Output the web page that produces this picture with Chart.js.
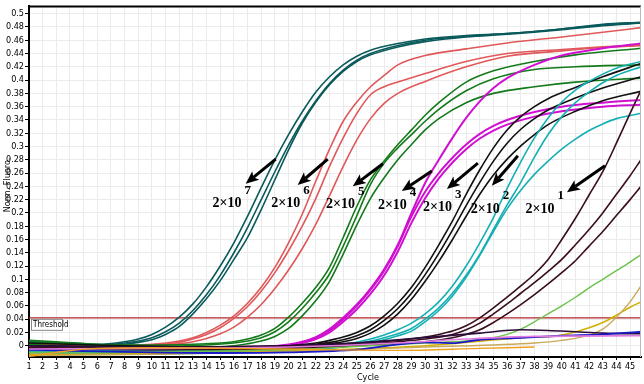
<!DOCTYPE html>
<html>
<head>
<meta charset="utf-8">
<script src="https://cdn.jsdelivr.net/npm/chart.js@4.4.1/dist/chart.umd.min.js"></script>
<style>
html, body { margin: 0; padding: 0; background: #fff; }
</style>
</head>
<body>
<canvas id="chart" width="644" height="384"></canvas>
<script>
// amplification curves, [cycle, norm. fluoro]
var dil7a = [[1,0.006],[4,0.004],[6,0.002],[8,0.006],[9,0.01],[10,0.017],[11,0.028],[12,0.043],[13,0.063],[14,0.089],[15,0.12],[16,0.155],[17,0.195],[18,0.238],[19,0.28],[20,0.318],[21,0.352],[22,0.382],[23,0.405],[24,0.423],[25,0.436],[26,0.445],[28,0.455],[30,0.462],[33,0.467],[36,0.47],[40,0.477],[43,0.484],[45.8,0.487]];
var dil7b = [[1,0.003],[4,0.001],[6,0.0],[8,0.004],[9,0.007],[10,0.012],[11,0.021],[12,0.034],[13,0.053],[14,0.077],[15,0.106],[16,0.14],[17,0.178],[18,0.22],[19,0.262],[20,0.302],[21,0.338],[22,0.369],[23,0.395],[24,0.415],[25,0.43],[26,0.44],[28,0.452],[30,0.46],[33,0.466],[36,0.47],[40,0.477],[43,0.483],[45.8,0.486]];
var dil7c = [[1,0.0],[4,-0.002],[6,-0.002],[8,0.002],[9,0.005],[10,0.009],[11,0.017],[12,0.029],[13,0.048],[14,0.071],[15,0.098],[16,0.13],[17,0.163],[18,0.205],[19,0.25],[20,0.295],[21,0.335],[22,0.367],[23,0.393],[24,0.413],[25,0.428],[26,0.438],[28,0.45],[30,0.458],[33,0.465],[36,0.469],[40,0.476],[43,0.482],[45.8,0.486]];

var dil6a = [[1,0.002],[6,0.0],[10,0.002],[12,0.007],[13,0.012],[14,0.02],[15,0.031],[16,0.045],[17,0.064],[18,0.088],[19,0.118],[20,0.155],[21,0.198],[22,0.248],[23,0.296],[24,0.338],[25,0.367],[26,0.39],[27,0.407],[28,0.423],[30,0.437],[33,0.447],[36,0.456],[40,0.465],[43,0.472],[45.8,0.479]];
var dil6b = [[1,0.0],[6,-0.002],[10,0.001],[12,0.005],[13,0.01],[14,0.017],[15,0.027],[16,0.041],[17,0.059],[18,0.082],[19,0.11],[20,0.143],[21,0.18],[22,0.222],[23,0.27],[24,0.313],[25,0.35],[26,0.378],[27,0.39],[28,0.397],[30,0.41],[33,0.428],[36,0.44],[40,0.446],[43,0.45],[45.8,0.453]];
var dil6c = [[1,-0.002],[6,-0.004],[10,-0.001],[12,0.003],[13,0.006],[14,0.011],[15,0.018],[16,0.028],[17,0.043],[18,0.062],[19,0.086],[20,0.114],[21,0.146],[22,0.183],[23,0.226],[24,0.27],[25,0.31],[26,0.342],[27,0.365],[28,0.38],[30,0.398],[33,0.42],[36,0.436],[40,0.444],[43,0.449],[45.8,0.452]];

var dil5a = [[1,0.008],[3,0.006],[6,0.002],[10,0.001],[14,0.003],[16,0.006],[17,0.01],[18,0.016],[19,0.026],[20,0.043],[21,0.064],[22,0.088],[23,0.118],[24,0.163],[25,0.21],[26,0.25],[27,0.278],[28,0.303],[29,0.325],[30,0.347],[31,0.366],[33,0.397],[35,0.414],[38,0.428],[41,0.438],[45.8,0.448]];
var dil5b = [[1,0.005],[3,0.004],[6,0.0],[10,-0.001],[14,0.001],[16,0.004],[17,0.007],[18,0.012],[19,0.021],[20,0.036],[21,0.056],[22,0.08],[23,0.108],[24,0.15],[25,0.196],[26,0.243],[27,0.275],[28,0.298],[29,0.318],[30,0.338],[31,0.356],[33,0.384],[35,0.402],[38,0.416],[41,0.42],[45.8,0.423]];
var dil5c = [[1,0.002],[3,0.0],[6,-0.003],[10,-0.004],[14,-0.002],[16,0.0],[17,0.003],[18,0.007],[19,0.014],[20,0.026],[21,0.045],[22,0.068],[23,0.097],[24,0.138],[25,0.182],[26,0.222],[27,0.253],[28,0.28],[29,0.303],[30,0.325],[31,0.342],[33,0.366],[35,0.38],[38,0.39],[41,0.397],[45.8,0.403]];

var dil4a = [[1,-0.004],[10,-0.006],[18,-0.002],[20,0.002],[21,0.006],[22,0.013],[23,0.025],[24,0.042],[25,0.062],[26,0.086],[27,0.115],[28,0.152],[29,0.2],[30,0.245],[31,0.28],[32,0.313],[33,0.343],[34,0.368],[35,0.388],[36,0.403],[38,0.423],[40,0.437],[43,0.448],[45.8,0.455]];
var dil4b = [[1,-0.006],[10,-0.007],[18,-0.003],[20,0.001],[21,0.005],[22,0.012],[23,0.023],[24,0.04],[25,0.06],[26,0.084],[27,0.113],[28,0.15],[29,0.195],[30,0.232],[31,0.26],[32,0.283],[33,0.303],[34,0.319],[35,0.331],[36,0.34],[38,0.352],[40,0.36],[43,0.366],[45.8,0.37]];
var dil4c = [[1,-0.008],[10,-0.009],[18,-0.005],[20,0.0],[21,0.004],[22,0.01],[23,0.02],[24,0.036],[25,0.055],[26,0.078],[27,0.106],[28,0.142],[29,0.185],[30,0.222],[31,0.252],[32,0.276],[33,0.296],[34,0.312],[35,0.324],[36,0.333],[38,0.345],[40,0.353],[43,0.36],[45.8,0.363]];

var dil3a = [[1,0.004],[8,0.0],[15,-0.002],[20,0.0],[22,0.004],[23,0.008],[24,0.013],[25,0.02],[26,0.03],[27,0.045],[28,0.064],[29,0.088],[30,0.118],[31,0.152],[32,0.188],[33,0.228],[34,0.265],[35,0.298],[36,0.325],[37,0.345],[38,0.36],[39,0.372],[41,0.389],[43,0.405],[45.8,0.425]];
var dil3b = [[1,0.0],[8,-0.003],[15,-0.004],[20,-0.002],[22,0.002],[23,0.005],[24,0.009],[25,0.015],[26,0.024],[27,0.038],[28,0.056],[29,0.079],[30,0.107],[31,0.139],[32,0.174],[33,0.211],[34,0.246],[35,0.278],[36,0.305],[37,0.326],[38,0.342],[39,0.355],[41,0.373],[43,0.388],[45.8,0.405]];
var dil3c = [[1,-0.003],[8,-0.006],[15,-0.006],[20,-0.004],[22,0.0],[23,0.003],[24,0.006],[25,0.011],[26,0.019],[27,0.031],[28,0.048],[29,0.07],[30,0.097],[31,0.127],[32,0.16],[33,0.195],[34,0.228],[35,0.257],[36,0.281],[37,0.301],[38,0.318],[39,0.333],[41,0.353],[43,0.369],[45.8,0.383]];

var dil2a = [[1,-0.006],[10,-0.008],[20,-0.004],[24,0.002],[26,0.01],[27,0.016],[28,0.024],[29,0.034],[30,0.048],[31,0.066],[32,0.09],[33,0.12],[34,0.155],[35,0.193],[36,0.237],[37,0.277],[38,0.313],[39,0.343],[40,0.367],[41,0.385],[42,0.398],[43,0.409],[44,0.418],[45.8,0.428]];
var dil2b = [[1,-0.009],[10,-0.01],[20,-0.006],[24,0.0],[26,0.007],[27,0.012],[28,0.018],[29,0.026],[30,0.04],[31,0.057],[32,0.079],[33,0.106],[34,0.138],[35,0.175],[36,0.212],[37,0.246],[38,0.284],[39,0.318],[40,0.345],[41,0.366],[42,0.382],[43,0.396],[44,0.407],[45.8,0.42]];
var dil2c = [[1,-0.011],[10,-0.012],[20,-0.008],[24,-0.002],[26,0.005],[27,0.009],[28,0.015],[29,0.022],[30,0.036],[31,0.053],[32,0.075],[33,0.103],[34,0.136],[35,0.172],[36,0.206],[37,0.234],[38,0.258],[39,0.278],[40,0.296],[41,0.311],[42,0.324],[43,0.334],[44,0.342],[45.8,0.35]];

var dil1a = [[1,0.0],[10,-0.002],[20,0.0],[25,0.004],[28,0.008],[30,0.013],[31,0.017],[32,0.022],[33,0.03],[34,0.042],[35,0.057],[36,0.073],[37,0.09],[38,0.108],[39,0.13],[40,0.16],[41,0.192],[42,0.227],[43,0.262],[44,0.305],[45,0.35],[45.8,0.385]];
var dil1b = [[1,-0.003],[10,-0.004],[20,-0.002],[25,0.002],[28,0.006],[30,0.01],[32,0.017],[33,0.024],[34,0.034],[35,0.048],[36,0.063],[37,0.079],[38,0.095],[39,0.112],[40,0.13],[41,0.152],[42,0.175],[43,0.2],[44,0.228],[45,0.256],[45.8,0.28]];
var dil1c = [[1,-0.005],[10,-0.006],[20,-0.004],[25,0.0],[28,0.003],[30,0.006],[32,0.012],[33,0.017],[34,0.024],[35,0.035],[36,0.048],[37,0.062],[38,0.077],[39,0.093],[40,0.11],[41,0.128],[42,0.15],[43,0.172],[44,0.196],[45,0.22],[45.8,0.24]];

// late / background traces
var lateGreen = [[1,-0.01],[10,-0.009],[20,-0.006],[26,0.0],[30,0.004],[33,0.007],[35,0.012],[36,0.017],[37,0.025],[38,0.036],[39,0.048],[40,0.06],[41,0.073],[42,0.087],[43,0.1],[44,0.113],[45,0.126],[45.8,0.137]];
var lateGold = [[1,-0.013],[10,-0.012],[20,-0.008],[30,0.0],[37,0.012],[40,0.016],[42,0.027],[43,0.035],[44,0.046],[45,0.058],[45.8,0.066]];
var lateTan = [[1,-0.015],[10,-0.013],[20,-0.009],[30,-0.002],[38,0.004],[40,0.008],[42,0.016],[43,0.025],[44,0.043],[45,0.066],[45.8,0.09]];
var flatPurple = [[1,0.0],[10,-0.002],[20,0.0],[25,0.004],[28,0.009],[31,0.014],[34,0.019],[37,0.024],[39,0.023],[41,0.021],[43,0.019],[45.8,0.018]];
var flatBlue = [[1,-0.006],[5,-0.008],[10,-0.01],[15,-0.011],[20,-0.01],[25,-0.006],[28,0.002],[30,0.005],[32,0.004],[34,0.009],[37,0.012],[40,0.015],[43,0.017],[45.8,0.021]];
var flatPink = [[1,-0.005],[10,-0.004],[20,-0.002],[28,0.004],[33,0.01],[38,0.014],[45.8,0.015]];
var flatOrange = [[1,-0.016],[3,-0.01],[6,-0.004],[10,-0.003],[20,-0.005],[28,-0.007],[34,-0.004],[38,-0.002]];

var threshold = 0.042;

// dilution annotations (2x10^n), in cycle / fluoro units
var dilutionExp = ['7', '6', '5', '4', '3', '2', '1'];
var labelCycle = [15.5, 19.8, 23.8, 27.6, 30.9, 34.4, 38.4];
var labelValue = [0.214, 0.214, 0.213, 0.211, 0.208, 0.206, 0.206];
var arrowTail = [[19.06,0.281],[22.87,0.281],[26.9,0.274],[30.49,0.263],[33.86,0.275],[36.79,0.286],[43.16,0.271]];
var arrowTip = [[16.86,0.244],[20.67,0.242],[24.7,0.24],[28.29,0.233],[31.59,0.236],[34.88,0.241],[40.38,0.231]];

var narrow = "'Liberation Sans Narrow', 'DejaVu Sans Condensed', 'Arial Narrow', sans-serif";

function trace(points, color, width) {
    return {
        data: points.map(function(p){ return {x: p[0], y: p[1]}; }),
        borderColor: color,
        borderWidth: width || 1.6,
        pointRadius: 0,
        fill: false,
        cubicInterpolationMode: 'monotone'
    };
}

var datasets = [
    trace(flatOrange, '#f0a020', 1.4),
    trace(flatPink, '#e07ce0', 1.6),
    trace(flatBlue, '#1a1ac8', 1.8),
    trace(flatPurple, '#2a0b3a', 1.6),
    trace(lateTan, '#c9aa5a', 1.4),
    trace(lateGold, '#d4b000', 1.6),
    trace(lateGreen, '#6cc24a', 1.4),
    trace(dil1a, '#3a0d1f'), trace(dil1b, '#3a0d1f'), trace(dil1c, '#3a0d1f'),
    trace(dil2a, '#16b0b4'), trace(dil2b, '#16b0b4'), trace(dil2c, '#16b0b4'),
    trace(dil3a, '#111111'), trace(dil3b, '#111111'), trace(dil3c, '#111111'),
    trace(dil4a, '#d010d0', 2), trace(dil4b, '#d010d0', 2), trace(dil4c, '#d010d0', 2),
    trace(dil5a, '#137a1a'), trace(dil5b, '#137a1a'), trace(dil5c, '#137a1a'),
    trace(dil6a, '#e0585a'), trace(dil6b, '#e0585a'), trace(dil6c, '#e0585a'),
    trace(dil7a, '#0a5a5c'), trace(dil7b, '#0a5a5c'), trace(dil7c, '#0a5a5c'),
    trace([[1, threshold], [45.8, threshold]], '#b02428', 1.3)
];

function drawArrow(ctx, x0, y0, x1, y1) {
    var ang = Math.atan2(y1 - y0, x1 - x0);
    var len = 13, half = 5.5;
    var bx = x1 - Math.cos(ang) * len, by = y1 - Math.sin(ang) * len;
    ctx.lineWidth = 3;
    ctx.beginPath();
    ctx.moveTo(x0, y0);
    ctx.lineTo(bx + Math.cos(ang) * 3, by + Math.sin(ang) * 3);
    ctx.stroke();
    ctx.beginPath();
    ctx.moveTo(x1, y1);
    ctx.lineTo(bx - Math.sin(ang) * half, by + Math.cos(ang) * half);
    ctx.lineTo(bx + Math.cos(ang) * 3, by + Math.sin(ang) * 3);
    ctx.lineTo(bx + Math.sin(ang) * half, by - Math.cos(ang) * half);
    ctx.closePath();
    ctx.fill();
}

var overlay = {
    id: 'overlay',
    afterDatasetsDraw: function(chart) {
        var ctx = chart.ctx, a = chart.chartArea;
        var xs = chart.scales.x, ys = chart.scales.y;
        ctx.save();
        // frame
        ctx.strokeStyle = '#000';
        ctx.lineWidth = 2;
        ctx.beginPath();
        ctx.moveTo(a.left, a.top);
        ctx.lineTo(a.right, a.top);
        ctx.stroke();
        ctx.strokeStyle = '#bbb';
        ctx.lineWidth = 1;
        ctx.beginPath();
        ctx.moveTo(a.right - 0.5, a.top);
        ctx.lineTo(a.right - 0.5, a.bottom);
        ctx.stroke();

        // threshold tag
        var ty = ys.getPixelForValue(threshold);
        ctx.fillStyle = '#fff';
        ctx.fillRect(a.left + 2.5, ty + 1.5, 31, 11);
        ctx.strokeStyle = '#888';
        ctx.strokeRect(a.left + 2.5, ty + 1.5, 31, 11);
        ctx.fillStyle = '#000';
        ctx.font = '8px ' + narrow;
        ctx.textBaseline = 'middle';
        ctx.textAlign = 'left';
        ctx.fillText('Threshold', a.left + 4, ty + 7.5);

        // arrows and dilution labels
        ctx.fillStyle = '#000';
        ctx.strokeStyle = '#000';
        for (var i = 0; i < dilutionExp.length; i++) {
            drawArrow(ctx,
                xs.getPixelForValue(arrowTail[i][0]), ys.getPixelForValue(arrowTail[i][1]),
                xs.getPixelForValue(arrowTip[i][0]), ys.getPixelForValue(arrowTip[i][1]));
            var lx = xs.getPixelForValue(labelCycle[i]);
            var ly = ys.getPixelForValue(labelValue[i]);
            ctx.font = 'bold 14px "Liberation Serif", "DejaVu Serif", serif';
            ctx.textAlign = 'center';
            ctx.textBaseline = 'middle';
            ctx.fillText('2\u00d710', lx, ly);
            var w = ctx.measureText('2\u00d710').width;
            ctx.font = 'bold 13px "Liberation Serif", "DejaVu Serif", serif';
            ctx.textAlign = 'left';
            ctx.fillText(dilutionExp[i], lx + w / 2 + 3, ly - 13);
        }

        // axis titles
        ctx.fillStyle = '#000';
        ctx.font = '9px ' + narrow;
        ctx.textAlign = 'center';
        ctx.textBaseline = 'middle';
        ctx.fillText('Cycle', 368, 378);
        ctx.translate(8, 185);
        ctx.rotate(-Math.PI / 2);
        ctx.fillText('Norm. Fluoro.', 0, 0);
        ctx.restore();
    }
};

var chart = new Chart(document.getElementById('chart'), {
    type: 'line',
    data: { datasets: datasets },
    plugins: [overlay],
    options: {
        responsive: false,
        animation: false,
        layout: { padding: { top: 5, right: 3, left: 0, bottom: 0 } },
        plugins: { legend: { display: false }, tooltip: { enabled: false } },
        scales: {
            x: {
                type: 'linear',
                min: 1,
                max: 45.8,
                afterFit: function(s){ s.height = 27; },
                border: { color: '#000', width: 2 },
                grid: { color: '#ebebeb', tickColor: '#000', tickLength: 3 },
                ticks: {
                    stepSize: 1,
                    includeBounds: false,
                    autoSkip: false,
                    maxRotation: 0,
                    padding: 1,
                    color: '#000',
                    font: { family: narrow, size: 9 }
                }
            },
            y: {
                min: -0.017,
                max: 0.511,
                afterFit: function(s){ s.width = 29; },
                border: { color: '#000', width: 2 },
                grid: { color: '#ebebeb', tickColor: '#000', tickLength: 4 },
                ticks: {
                    stepSize: 0.02,
                    includeBounds: false,
                    autoSkip: false,
                    padding: 1,
                    color: '#000',
                    font: { family: narrow, size: 9 },
                    callback: function(v){ return String(Number(v.toFixed(2))); }
                }
            }
        }
    }
});
</script>
</body>
</html>
